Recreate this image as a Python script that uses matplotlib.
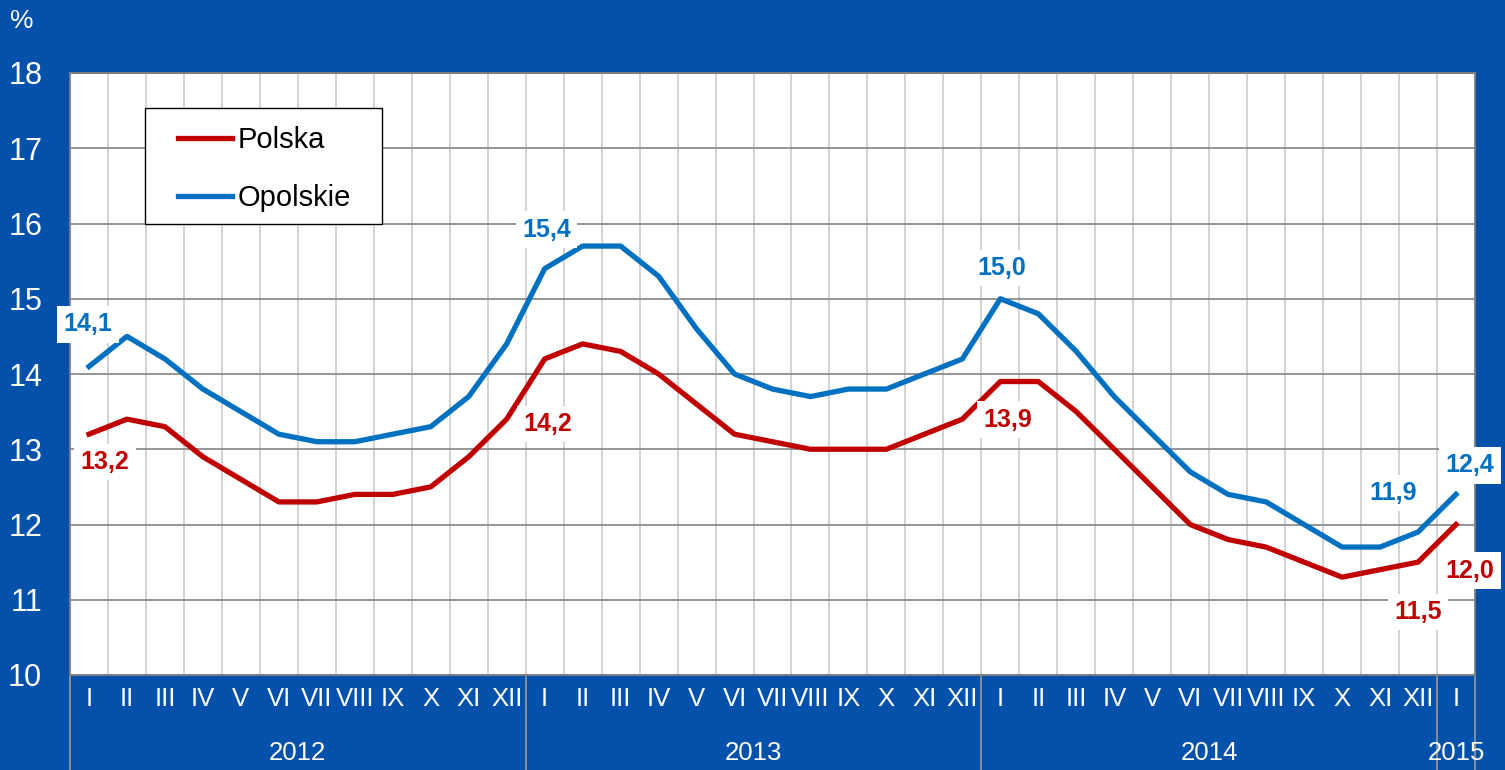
import numpy as np
import matplotlib
matplotlib.use('Agg')
import matplotlib.pyplot as plt
from matplotlib.patches import Rectangle

plt.rcParams['font.family'] = ['Liberation Sans', 'DejaVu Sans']

months = ['I', 'II', 'III', 'IV', 'V', 'VI', 'VII', 'VIII', 'IX', 'X', 'XI', 'XII']
month_labels = months * 3 + ['I']
years = ['2012', '2013', '2014', '2015']

polska = [13.2, 13.4, 13.3, 12.9, 12.6, 12.3, 12.3, 12.4, 12.4, 12.5, 12.9, 13.4,
          14.2, 14.4, 14.3, 14.0, 13.6, 13.2, 13.1, 13.0, 13.0, 13.0, 13.2, 13.4,
          13.9, 13.9, 13.5, 13.0, 12.5, 12.0, 11.8, 11.7, 11.5, 11.3, 11.4, 11.5,
          12.0]
opolskie = [14.1, 14.5, 14.2, 13.8, 13.5, 13.2, 13.1, 13.1, 13.2, 13.3, 13.7, 14.4,
            15.4, 15.7, 15.7, 15.3, 14.6, 14.0, 13.8, 13.7, 13.8, 13.8, 14.0, 14.2,
            15.0, 14.8, 14.3, 13.7, 13.2, 12.7, 12.4, 12.3, 12.0, 11.7, 11.7, 11.9,
            12.4]

bg = '#0351AA'
red = '#C00000'
blue = '#0070C0'

fig = plt.figure(figsize=(15.05, 7.7), dpi=100, facecolor=bg)
ax = fig.add_axes([70/1505, 95/770, 1405/1505, 602/770])
ax.set_facecolor('white')

x = np.arange(len(polska))
ax.plot(x, polska, color=red, lw=3.8, label='Polska', zorder=3)
ax.plot(x, opolskie, color=blue, lw=3.8, label='Opolskie', zorder=3)

ax.set_xlim(-0.5, len(x) - 0.5)
ax.set_ylim(10, 18)
ax.set_yticks(range(10, 19))
ax.set_xticks(x)
ax.set_xticklabels(month_labels, fontsize=18.5, color='white')
ax.set_xticks(np.arange(-0.5, len(x)), minor=True)
ax.tick_params(axis='x', which='both', length=0, pad=9)
ax.tick_params(axis='y', length=0, pad=20, labelsize=22, labelcolor='white')
ax.grid(axis='y', color='#8C8C8C', lw=1.3, zorder=1)
ax.grid(axis='x', which='minor', color='#CFCFCF', lw=1.3, zorder=1)
for s in ax.spines.values():
    s.set_color('#808080')
    s.set_linewidth(1.3)

# year separators and labels
trans = ax.get_xaxis_transform()
for b in [-0.5, 11.5, 23.5, 35.5, len(x) - 0.5]:
    ax.plot([b, b], [0, -0.16], transform=trans, color='#9A9A9A', lw=1.2, clip_on=False)
year_pos = [5.5, 17.5, 29.5, 36]
for yp, yl in zip(year_pos, years):
    ax.text(yp, -0.13, yl, transform=trans, ha='center', va='center',
            fontsize=18.5, color='white')

fig.text(22/1505, 1 - 21/770, '%', color='white', fontsize=19, ha='center', va='center')

# data labels
labels = [
    (0, opolskie, blue, (-1, 42)),
    (0, polska, red, (16, -28)),
    (12, opolskie, blue, (2, 39)),
    (12, polska, red, (3, -65)),
    (24, opolskie, blue, (1, 31)),
    (24, polska, red, (7, -38)),
    (35, opolskie, blue, (-25, 39)),
    (35, polska, red, (0, -50)),
    (36, opolskie, blue, (14, 29)),
    (36, polska, red, (14, -46)),
]
for i, series, col, off in labels:
    ax.annotate(f'{series[i]:.1f}'.replace('.', ','), (i, series[i]), xytext=off,
                textcoords='offset pixels', ha='center', va='center',
                fontsize=18, fontweight='bold', color=col, zorder=4,
                annotation_clip=False,
                bbox=dict(boxstyle='square,pad=0.25', fc='white', ec='none'))

# legend box
ax.add_patch(Rectangle((75/1405, 451/602), 237/1405, 116/602, transform=ax.transAxes,
                       fc='white', ec='black', lw=1.0, zorder=5))
leg = ax.legend(loc='upper left', bbox_to_anchor=(108/1405, 1 - 53/602),
                fontsize=21, frameon=False, handlelength=1.86, handletextpad=0.17,
                labelspacing=1.03, borderpad=0, borderaxespad=0)
leg.set_zorder(6)

fig.savefig('out.png', dpi=100, facecolor=bg)
